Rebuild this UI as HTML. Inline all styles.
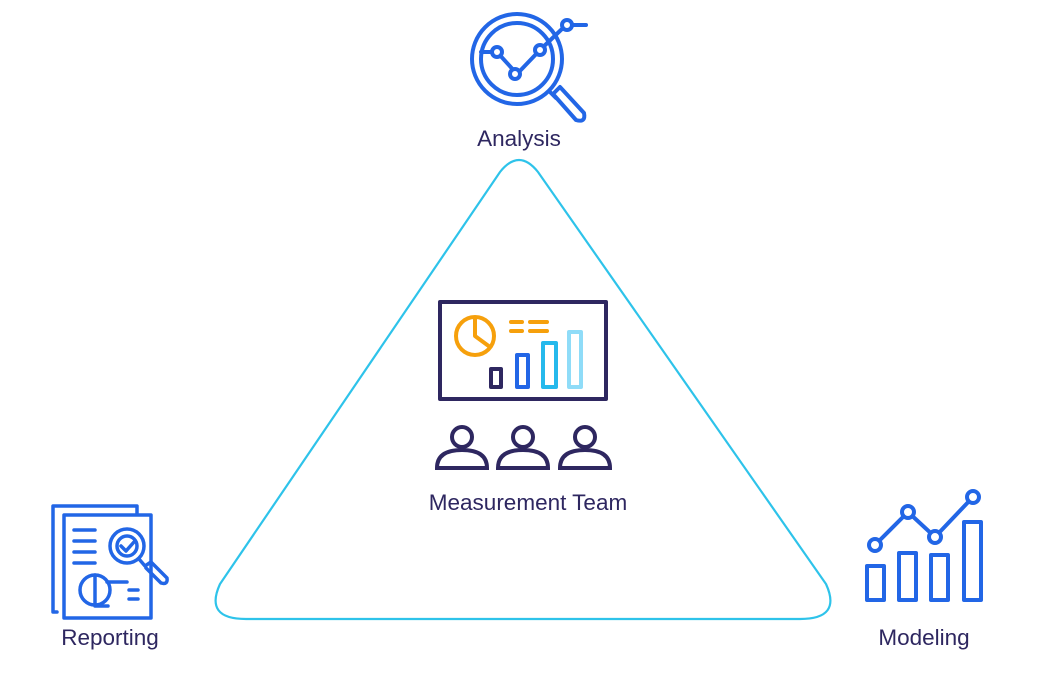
<!DOCTYPE html>
<html><head><style>
body{margin:0;background:#fff;}
svg{display:block}
text{font-family:"Liberation Sans",sans-serif;font-size:22.5px;fill:#2e2760}
</style></head><body>
<svg width="1037" height="696" viewBox="0 0 1037 696">
<path d="M500,172 Q519,148 538,172 L826,584 Q842,619 800,619 L246,619 Q204,619 220,584 Z" fill="none" stroke="#2ec3ea" stroke-width="2.2"/>
<g fill="none" stroke="#2266e6" stroke-width="4" stroke-linecap="round" stroke-linejoin="round">
<circle cx="517" cy="59" r="45"/>
<circle cx="517" cy="59" r="36"/>
<path d="M481,52 L497,52 L517,74 L540,50 L563,28"/>
<circle cx="497" cy="52" r="5" fill="#fff"/>
<circle cx="515" cy="74" r="5" fill="#fff"/>
<circle cx="540" cy="50" r="5" fill="#fff"/>
<circle cx="567" cy="25" r="5" fill="#fff"/>
<path d="M572,25 L586,25"/>
<path d="M549,91 L556,98"/>
<path d="M553,94 L560,87 L584,113 Q586,123 576,120 Z"/>
</g>
<text x="519" y="146" text-anchor="middle">Analysis</text>
<g fill="none" stroke-width="4" stroke-linejoin="round">
<rect x="440" y="302" width="166" height="97" stroke="#2e2760"/>
<circle cx="475" cy="336" r="19" stroke="#f6a00c"/>
<path d="M475,317 L475,336 L490,347" stroke="#f6a00c"/>
<path d="M511,322 L522,322 M530,322 L547,322 M511,331 L522,331 M530,331 L547,331" stroke="#f6a00c" stroke-linecap="round"/>
<rect x="491" y="369" width="10" height="18" stroke="#2e2760"/>
<rect x="517" y="355" width="11" height="32" stroke="#2266e6"/>
<rect x="543" y="343" width="13" height="44" stroke="#25b9ec"/>
<rect x="569" y="332" width="12" height="55" stroke="#8fdcf8"/>
</g>
<g fill="none" stroke="#2e2760" stroke-width="4">
<circle cx="462" cy="437" r="10"/><path d="M437,468 Q437,450 462,450 Q487,450 487,468 Z"/>
<circle cx="523" cy="437" r="10"/><path d="M498,468 Q498,450 523,450 Q548,450 548,468 Z"/>
<circle cx="585" cy="437" r="10"/><path d="M560,468 Q560,450 585,450 Q610,450 610,468 Z"/>
</g>
<text x="528" y="510" text-anchor="middle">Measurement Team</text>
<g fill="none" stroke="#2266e6" stroke-width="3.5" stroke-linecap="round" stroke-linejoin="round">
<path d="M57,612 L53,612 L53,506 L137,506 L137,514"/>
<rect x="64" y="515" width="87" height="103" fill="#fff"/>
<path d="M74,530 L95,530 M74,541 L95,541 M74,552 L95,552 M74,563 L95,563"/>
<circle cx="127" cy="546" r="17" fill="#fff"/><circle cx="127" cy="546" r="10"/>
<path d="M121,546 L126,551 L134,542"/>
<path d="M139,559 L145,566 M145,566 L151,562 L167,578 Q168,585 161,583 L146,568"/>
<circle cx="95" cy="590" r="15"/>
<path d="M95,575 L95,606 L108,606 M107,582 L127,582 M129,590 L138,590 M129,599 L138,599"/>
</g>
<text x="110" y="645" text-anchor="middle">Reporting</text>
<g fill="none" stroke="#2266e6" stroke-width="4" stroke-linejoin="round">
<rect x="867" y="566" width="17" height="34"/>
<rect x="899" y="553" width="17" height="47"/>
<rect x="931" y="555" width="17" height="45"/>
<rect x="964" y="522" width="17" height="78"/>
<path d="M875,545 L908,512 L935,537 L973,497"/>
<circle cx="875" cy="545" r="6" fill="#fff"/>
<circle cx="908" cy="512" r="6" fill="#fff"/>
<circle cx="935" cy="537" r="6" fill="#fff"/>
<circle cx="973" cy="497" r="6" fill="#fff"/>
</g>
<text x="924" y="645" text-anchor="middle">Modeling</text>
</svg>
</body></html>
